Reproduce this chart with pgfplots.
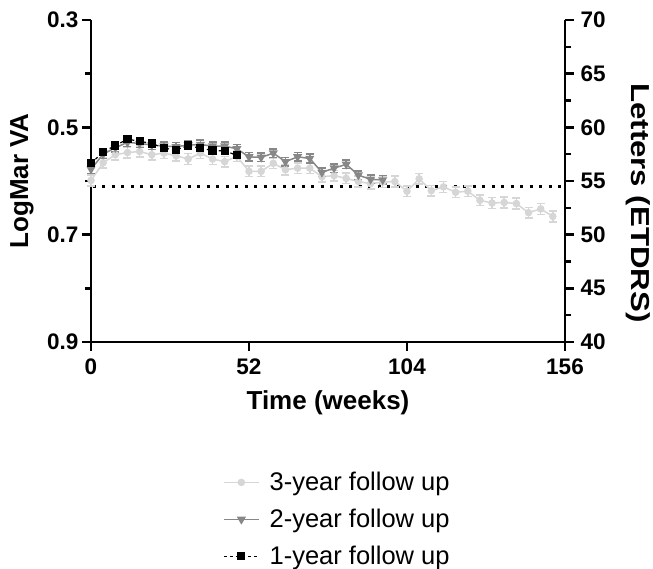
\documentclass[border=0pt]{standalone}
\usepackage{pgfplots}
\pgfplotsset{compat=1.18}
\usepackage{fontspec}
\setmainfont{Liberation Sans}
\definecolor{lg}{RGB}{214,214,214}
\definecolor{mg}{RGB}{135,135,135}

\pgfplotsset{
  base/.style={
    scale only axis, width=474pt, height=322pt,
    xmin=0, xmax=156,
    axis line style={line width=2.5pt},
    tick style={line width=2.5pt, black},
    major tick length=9pt, minor tick length=6pt,
    tick align=outside,
    ticklabel style={font=\bfseries\fontsize{22.5}{26}\selectfont},
    label style={font=\bfseries\fontsize{26}{30}\selectfont},
    /pgf/number format/assume math mode=true,
    clip=false,
  },
  leg/.style={legend image code/.code={
      \draw[mark repeat=2,mark phase=2] plot coordinates {(0pt,0pt)(17.5pt,0pt)(35pt,0pt)};}},
}

\begin{document}
\begin{tikzpicture}
\begin{axis}[base,
  axis x line*=bottom, axis y line*=left,
  ymin=0.3, ymax=0.9, y dir=reverse,
  ytick={0.3,0.5,0.7,0.9}, yticklabels={0.3,0.5,0.7,0.9},
  minor ytick={0.4,0.6,0.8},
  xtick={0,52,104,156}, xticklabels={0,52,104,156},
  xticklabel style={yshift=-4pt},
  xlabel={Time (weeks)}, ylabel={LogMar VA},
  xlabel style={at={(axis description cs:0.5,-0.1894)}, anchor=center},
  ylabel style={at={(axis description cs:-0.1456,0.5)}, anchor=center},
  legend style={at={(axis description cs:0.272,-0.392)}, anchor=north west,
    draw=none, fill=none, font=\fontsize{25.5}{30}\selectfont, row sep=13pt,
    legend cell align=left, /tikz/every odd column/.append style={column sep=8pt}},
  leg,
]
\coordinate (bl) at (rel axis cs:0,0);

% dotted reference line
\addplot[forget plot, black, line width=3pt, dash pattern=on 3pt off 6.5pt]
  coordinates {(0.5,0.61) (156,0.61)};

% 3-year follow up
\addplot[color=lg, line width=1.5pt, mark=*, mark size=3pt,
  mark options={solid, fill=lg},
  error bars/.cd, y dir=both, y explicit,
  error bar style={line width=1.5pt, color=lg},
  error mark options={rotate=90, mark size=4pt, line width=1.5pt, color=lg}]
  table[x=x, y=y, y error=e] {
x y e
0 0.599 0.010
4 0.566 0.010
8 0.551 0.010
12 0.547 0.010
16 0.545 0.010
20 0.551 0.010
24 0.548 0.010
28 0.553 0.010
32 0.559 0.010
36 0.548 0.010
40 0.559 0.010
44 0.564 0.010
48 0.554 0.010
52 0.582 0.010
56 0.582 0.010
60 0.567 0.010
64 0.579 0.010
68 0.576 0.010
72 0.576 0.010
76 0.592 0.010
80 0.590 0.010
84 0.595 0.010
88 0.601 0.010
92 0.605 0.010
96 0.602 0.010
100 0.601 0.010
104 0.619 0.010
108 0.596 0.010
112 0.618 0.010
116 0.611 0.010
120 0.621 0.010
124 0.619 0.010
128 0.636 0.010
132 0.641 0.010
136 0.640 0.010
140 0.642 0.010
144 0.659 0.010
148 0.652 0.010
152 0.666 0.010
};
\addlegendentry{3-year follow up}

% 2-year follow up
\addplot[color=mg, line width=1.5pt, mark=triangle*, mark size=3.8pt,
  mark options={solid, fill=mg, rotate=180},
  error bars/.cd, y dir=both, y explicit,
  error bar style={line width=1.5pt, color=mg},
  error mark options={rotate=90, mark size=4pt, line width=1.5pt, color=mg}]
  table[x=x, y=y, y error=e] {
x y e
0 0.578 0.008
4 0.550 0.008
8 0.538 0.008
12 0.528 0.008
16 0.530 0.008
20 0.533 0.008
24 0.535 0.008
28 0.536 0.008
32 0.533 0.008
36 0.532 0.008
40 0.535 0.008
44 0.535 0.008
48 0.540 0.008
52 0.555 0.008
56 0.556 0.008
60 0.548 0.008
64 0.564 0.008
68 0.555 0.008
72 0.558 0.008
76 0.584 0.008
80 0.576 0.008
84 0.569 0.008
88 0.589 0.008
92 0.597 0.008
96 0.598 0.008
};
\addlegendentry{2-year follow up}

% 1-year follow up
\addplot[color=black, line width=1.2pt, dashed, mark=square*, mark size=3.5pt,
  mark options={solid, fill=black},
  error bars/.cd, y dir=both, y explicit,
  error bar style={line width=1.2pt, solid, color=black},
  error mark options={rotate=90, mark size=3.5pt, line width=1.2pt, color=black}]
  table[x=x, y=y, y error=e] {
x y e
0 0.567 0.006
4 0.546 0.006
8 0.534 0.006
12 0.522 0.006
16 0.526 0.006
20 0.530 0.006
24 0.539 0.006
28 0.542 0.006
32 0.534 0.006
36 0.539 0.006
40 0.543 0.006
44 0.544 0.006
48 0.552 0.006
};
\addlegendentry{1-year follow up}
\end{axis}

\begin{axis}[base,
  axis x line=none, axis y line*=right,
  ymin=40, ymax=70,
  ytick={40,45,50,55,60,65,70}, yticklabels={40,45,50,55,60,65,70},
  minor ytick={42.5,47.5,52.5,57.5,62.5,67.5},
  yticklabel style={xshift=3pt},
  ylabel={\scalebox{1.2}[1]{Letters (ETDRS)}},
  ylabel style={at={(axis description cs:1.154,0.432)}, anchor=center, rotate=180},
]
\addplot[draw=none, forget plot] coordinates {(0,40)};
\end{axis}

\pgfresetboundingbox
\path (bl) ++(-91pt,-227pt) rectangle ++(653pt,569pt);
\end{tikzpicture}
\end{document}
